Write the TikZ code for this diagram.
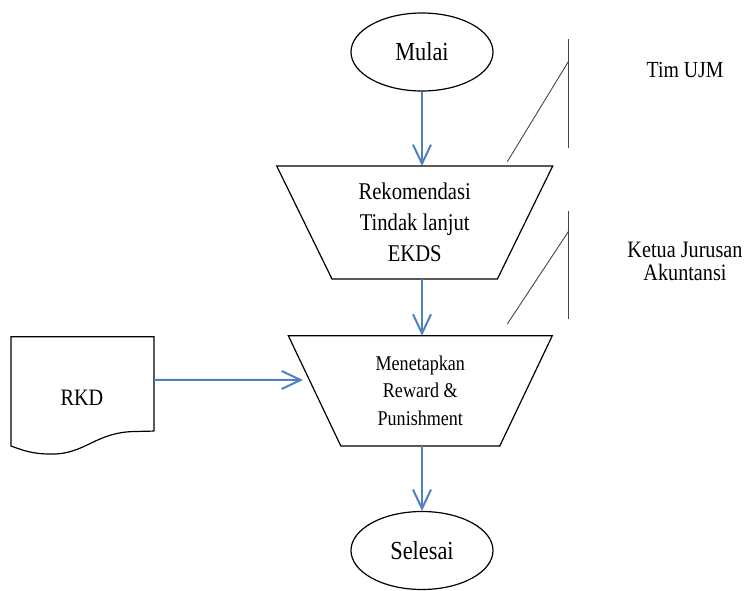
\documentclass[tikz,border=0pt]{standalone}
\usepackage{fontspec}
\setmainfont{Liberation Serif}[FakeStretch=0.86]
\usetikzlibrary{arrows.meta,shapes.geometric}
\definecolor{flowblue}{RGB}{79, 129, 189}
\definecolor{notegray}{RGB}{70, 70, 70}

\begin{document}
\begin{tikzpicture}[x=1pt, y=-1pt,
    flow/.style={flowblue, line width=2pt, -{Straight Barb[length=19pt, width=18pt, line width=2pt]}},
    terminal/.style={ellipse, draw, line width=1.2pt, minimum width=142pt, minimum height=78pt,
      inner sep=0pt, font=\fontsize{26}{28}\selectfont},
    trapbox/.style={inner sep=0pt, outer sep=0pt, align=center},
    outline/.style={line width=1.2pt, line join=miter},
    notebar/.style={notegray, line width=1.5pt},
    noteline/.style={notegray, line width=0.9pt}]
  \useasboundingbox (0,0) rectangle (748,590);

  \node[terminal] (mulai) at (422, 52) {Mulai};

  \node[trapbox, minimum width=276pt, minimum height=113pt,
    font=\fontsize{24}{31}\selectfont] (rek) at (414.7, 222.5) {Rekomendasi\\Tindak lanjut\\EKDS};
  \draw[outline] (rek.north west) -- (rek.north east) -- ([xshift=-55.3pt]rek.south east)
    -- ([xshift=55.3pt]rek.south west) -- cycle;

  \node[trapbox, minimum width=264pt, minimum height=110.3pt,
    font=\fontsize{21}{27.5}\selectfont] (men) at (420.3, 390.8) {Menetapkan\\Reward \&\\Punishment};
  \draw[outline] (men.north west) -- (men.north east) -- ([xshift=-52.5pt]men.south east)
    -- ([xshift=52.5pt]men.south west) -- cycle;

  \node[terminal] (selesai) at (422, 550.5) {Selesai};

  % dokumen RKD
  \node[trapbox, minimum width=143pt, minimum height=94.3pt] (rkd) at (82.5, 383.9) {};
  \draw[outline] (rkd.south east) -- (rkd.north east) -- (rkd.north west) -- (11, 446)
    .. controls (22, 450) and (32, 454) .. (50, 454)
    .. controls (85, 455) and (95, 432) .. (135, 431.5) -- (rkd.south east);
  \node[font=\fontsize{23.5}{25}\selectfont] (rkdlabel) at (82, 397.7) {RKD};
  \coordinate (rkdin) at (303, 380);

  \draw[flow] (mulai) -- (mulai |- rek.north);
  \draw[flow] (mulai |- rek.south) -- (mulai |- men.north);
  \draw[flow] (mulai |- men.south) -- (selesai);
  \draw[flow] ([yshift=4pt]rkd.east) -- (rkdin);

  % keterangan
  \draw[notebar] (568.3, 39.3) -- (568.3, 148.3);
  \draw[noteline] (568.3, 61.7) -- (507.3, 161.7);
  \node[font=\fontsize{23}{25}\selectfont] (timujm) at (685, 70) {Tim UJM};

  \draw[notebar] (568.3, 210.7) -- (568.3, 319);
  \draw[noteline] (568.3, 231.7) -- (507.3, 324);
  \node[font=\fontsize{23.5}{23.5}\selectfont, align=center] (kajur) at (685, 261.5) {Ketua Jurusan\\Akuntansi};
\end{tikzpicture}
\end{document}
